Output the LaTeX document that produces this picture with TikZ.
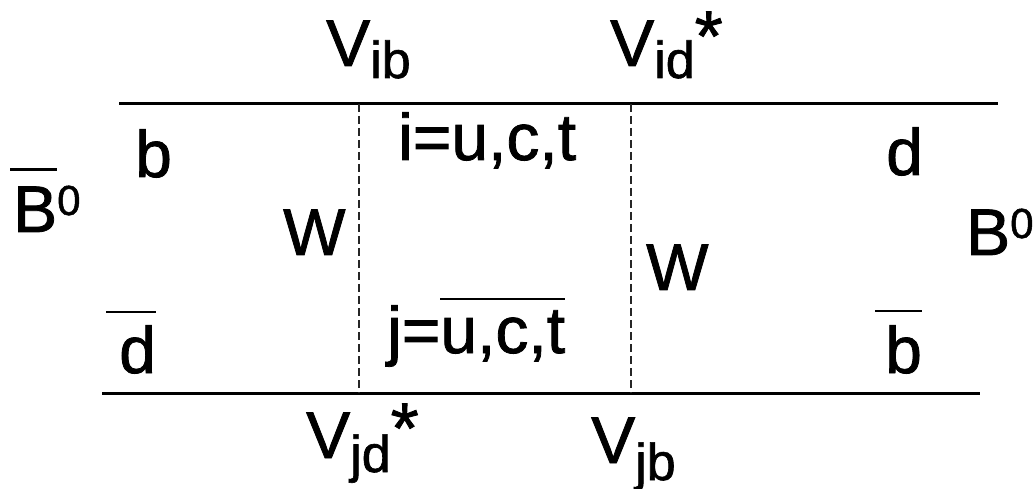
\documentclass[tikz,border=0pt]{standalone}
\usepackage{fontspec}
\setmainfont{Liberation Sans}[BoldFont={Liberation Sans},BoldFeatures={FakeBold=1.2}]
\newcommand\bigf{\fontsize{66}{72}\selectfont\bfseries}
\newcommand\subf{\fontsize{52}{56}\selectfont\bfseries}
\newcommand\zerof{\fontsize{42}{46}\selectfont\bfseries}
% overline: #1 gap, #2 left pad, #3 right pad, #4 text
\newcommand\ovb[4]{\vbox{\hrule height 2.5pt \kern #1\hbox{\kern #2\relax #4\kern #3\relax}}}
\newcommand\Vlab[3]{{\bigf V}\raisebox{#1}{\subf #2}#3}
\newcommand\astk{\raisebox{5pt}{\fontsize{72}{76}\selectfont\bfseries *}}
\newcommand\zsup{\raisebox{17pt}{\zerof 0}}
\begin{document}
\begin{tikzpicture}[x=1pt,y=-1pt,
  lab/.style={inner sep=0pt,anchor=base west,font=\bigf},
  quark/.style={line width=3pt},
  wline/.style={line width=1.6pt,black!85,dash pattern=on 8pt off 4pt}]
\useasboundingbox (0,0) rectangle (1034,489);
% vertices
\coordinate (tl) at (119,104);
\coordinate (tr) at (998,104);
\coordinate (bl) at (102,393);
\coordinate (br) at (980,393);
\coordinate (v1t) at (359,104);
\coordinate (v1b) at (359,393);
\coordinate (v2t) at (631,104);
\coordinate (v2b) at (631,393);
\draw[quark] (tl) -- (tr);
\draw[quark] (bl) -- (br);
\draw[wline] (v1t) -- (v1b);
\draw[wline] (v2t) -- (v2b);
% labels
\node[lab] (vib) at (326,66) {\Vlab{-12pt}{ib}{}};
\node[lab] (vid) at (610,66) {\Vlab{-12pt}{id}{\astk}};
\node[lab] (vjd) at (306,458) {\Vlab{-14pt}{jd}{\astk}};
\node[lab] (vjb) at (591,463) {\Vlab{-17pt}{jb}{}};
\node[lab] (b) at (135,177) {b};
\node[lab] (i) at (398,160) {i=u,c,t};
\node[lab] (d) at (886,175) {d};
\node[lab] (Bbar) at (10,232) {\ovb{16pt}{3pt}{0pt}{B}\zsup};
\node[lab] (W1) at (283,255) {W};
\node[lab] (W2) at (646,290) {W};
\node[lab] (B) at (966,255) {B\zsup};
\node[lab] (dbar) at (106,373) {\ovb{12pt}{13pt}{0pt}{d}};
\node[lab] (j) at (387,353) {j=\ovb{10pt}{0pt}{0pt}{u,c,t}};
\node[lab] (bbar) at (875,373) {\ovb{13pt}{10pt}{0pt}{b}};
\end{tikzpicture}
\end{document}
